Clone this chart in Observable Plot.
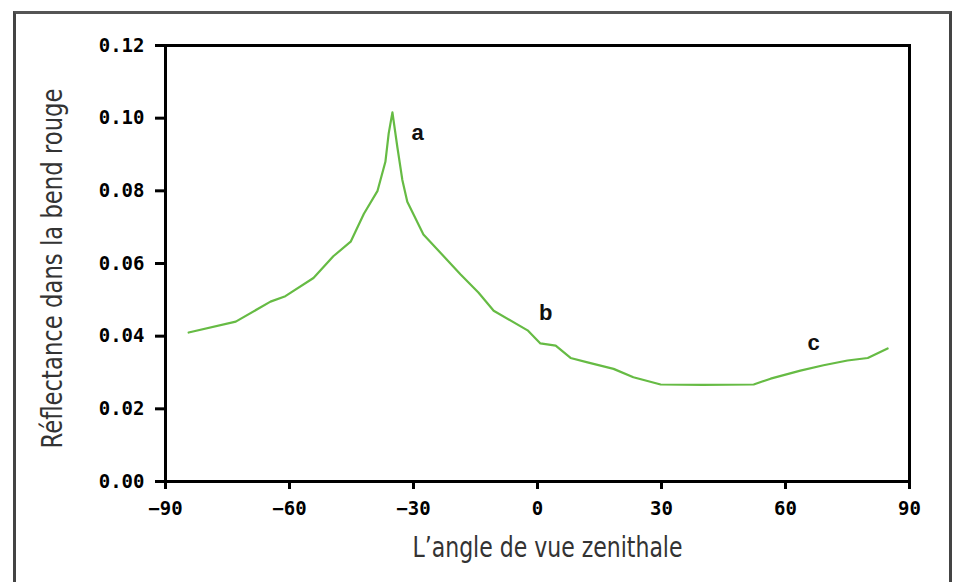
<!DOCTYPE html>
<html>
<head>
<meta charset="utf-8">
<script src="https://cdn.jsdelivr.net/npm/d3@7"></script>
<script src="https://cdn.jsdelivr.net/npm/@observablehq/plot@0.6"></script>
<style>
  html, body { margin: 0; padding: 0; background: #fff; }
  #wrap { position: relative; width: 964px; height: 582px; overflow: hidden; }
  #border { position: absolute; left: 13px; top: 11px; width: 933px; height: 620px; border: 3px solid #444; border-top-color: #555; }
  #chart { position: absolute; left: 0; top: 0; }
</style>
</head>
<body>
<div id="wrap"><div id="border"></div><div id="chart"></div></div>
<script>
// Viewing angle (degrees) and red-band reflectance
const angle = [-84.4, -73, -64.6, -61, -54.2, -49.4, -45.2, -42, -38.7, -36.8, -36, -35.1,
               -33.9, -32.7, -31.5, -27.6, -22.7, -18.6, -14.3, -10.6, -2.4, 0.7, 4.4, 8,
               12.1, 18.4, 23.2, 29.8, 40, 52.3, 56.4, 63.6, 69.2, 75, 79.9, 84.7];
const reflectance = [0.041, 0.044, 0.0495, 0.051, 0.056, 0.062, 0.066, 0.0737, 0.080, 0.088, 0.0958, 0.1016,
                     0.092, 0.083, 0.077, 0.068, 0.062, 0.057, 0.052, 0.047, 0.0416, 0.038, 0.0374, 0.034,
                     0.0328, 0.031, 0.0287, 0.0267, 0.0266, 0.0267, 0.0283, 0.0305, 0.032, 0.0333, 0.034, 0.0366];
const pointLabels = ["a", "b", "c"];
const labelAngle = [-29, 2, 66.8];
const labelRefl = [0.0958, 0.0465, 0.038];
const xTicks = [-90, -60, -30, 0, 30, 60, 90];
const yTicks = [0, 0.02, 0.04, 0.06, 0.08, 0.10, 0.12];
const yTitle = "Réflectance dans la bend rouge";
const xTitle = "L\u2019angle de vue zenithale";

const curve = angle.map((a, i) => ({a, r: reflectance[i]}));
const marks = pointLabels.map((t, i) => ({t, a: labelAngle[i], r: labelRefl[i]}));

const tickFont = {fontFamily: "'DejaVu Sans Mono', monospace", fontWeight: "bold", fontSize: 19};
const titleFont = "'DejaVu Sans', sans-serif";

const chart = Plot.plot({
  width: 964,
  height: 582,
  marginLeft: 165,
  marginRight: 55,
  marginTop: 45,
  marginBottom: 101,
  style: {background: "transparent", color: "#000"},
  x: {domain: [-90, 90]},
  y: {domain: [0, 0.12]},
  marks: [
    Plot.axisY({ticks: yTicks, tickFormat: d3.format(".2f"), tickSize: 10, tickPadding: 11,
                strokeWidth: 3, label: null, ...tickFont, letterSpacing: "1px"}),
    Plot.axisX({ticks: xTicks, tickFormat: d => d3.format("d")(d), tickSize: 8, tickPadding: 12,
                strokeWidth: 3, label: null, ...tickFont, letterSpacing: "1px"}),
    Plot.frame({stroke: "#000", strokeWidth: 3}),
    Plot.line(curve, {x: "a", y: "r", stroke: "#66bb44", strokeWidth: 2.2}),
    Plot.text(marks, {x: "a", y: "r", text: "t", fontSize: 22, fontFamily: "'Liberation Sans', sans-serif",
                      fontWeight: "bold", fill: "#111", textAnchor: "middle"}),
    Plot.text([yTitle], {frameAnchor: "left", dx: -113, dy: 5, rotate: -90, textAnchor: "middle",
                         fontSize: 29, fill: "#333", fontFamily: titleFont}),
    Plot.text([xTitle], {frameAnchor: "bottom", dx: 10, dy: 75, textAnchor: "middle",
                         fontSize: 29, fill: "#333", fontFamily: titleFont})
  ]
});
// condense the two titles to the reference's narrow lettering
d3.select(chart).selectAll("text").each(function () {
  const t = this.textContent;
  if (t === yTitle) { this.setAttribute("textLength", 360); this.setAttribute("lengthAdjust", "spacingAndGlyphs"); }
  if (t === xTitle) { this.setAttribute("textLength", 270); this.setAttribute("lengthAdjust", "spacingAndGlyphs"); }
});
document.getElementById("chart").appendChild(chart);
</script>
</body>
</html>
